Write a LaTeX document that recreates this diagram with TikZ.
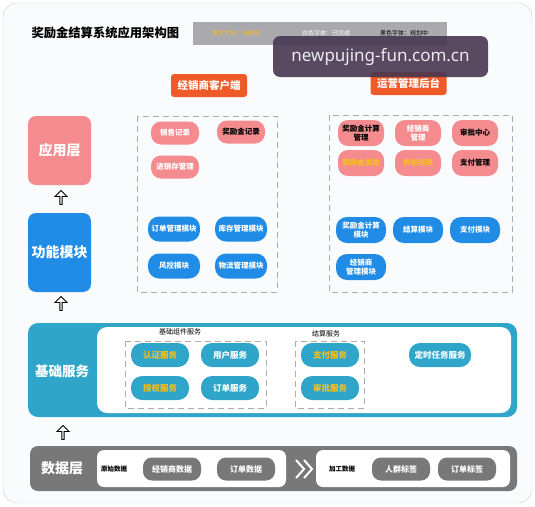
\documentclass[tikz,border=0pt]{standalone}
\usepackage{fontspec}
\setmainfont{Noto Sans CJK SC}
\newfontfamily\markfont{Noto Sans}
\usetikzlibrary{shapes.arrows}

\definecolor{FrameColor}{RGB}{249,251,253}
\definecolor{AppColor}{RGB}{244,139,143}
\definecolor{ModuleColor}{RGB}{33,140,230}
\definecolor{ServiceColor}{RGB}{46,165,201}
\definecolor{DataColor}{RGB}{120,120,120}
\definecolor{HeadColor}{RGB}{240,90,40}
\definecolor{TodoColor}{RGB}{247,190,30}
\definecolor{LegendColor}{RGB}{169,169,174}
\definecolor{MarkColor}{RGB}{72,55,82}

\begin{document}
\begin{tikzpicture}[x=1pt, y=-1pt,
		layer/.style={rounded corners=8pt, text=white, minimum width=63pt, inner sep=0pt, font=\fontsize{14}{16}\selectfont\bfseries},
		header/.style={fill=HeadColor, rounded corners=3pt, text=white, minimum width=76pt, minimum height=23pt, font=\fontsize{10.5}{12}\selectfont\bfseries},
		app/.style={fill=AppColor, rounded corners=10pt, minimum width=48pt, minimum height=23pt, inner sep=1pt, align=center, font=\fontsize{7.5}{8.5}\selectfont\bfseries},
		module/.style={fill=ModuleColor, rounded corners=11pt, minimum width=52pt, minimum height=25pt, inner sep=1pt, align=center, text=white, font=\fontsize{7.5}{8.5}\selectfont\bfseries},
		service/.style={fill=ServiceColor, rounded corners=11pt, minimum width=58pt, minimum height=24pt, inner sep=1pt, font=\fontsize{8.5}{10}\selectfont\bfseries},
		datum/.style={fill=DataColor, rounded corners=9pt, minimum width=58pt, minimum height=23pt, inner sep=1pt, text=white, font=\fontsize{8}{9}\selectfont\bfseries},
		group/.style={draw=gray!65, thick, dash pattern=on 6pt off 4pt},
		caption/.style={font=\fontsize{7}{8}\selectfont},
		uparrow/.style={single arrow, shape border rotate=90, draw=black, fill=white, line width=0.9pt, minimum height=14pt, minimum width=12pt, single arrow head extend=2pt, inner sep=0pt}
	]
	\useasboundingbox (0,0) rectangle (535,506);

	% Frame and title
	\filldraw[draw=gray!40, fill=FrameColor, rounded corners=14pt] (3,3) rectangle (532,503);
	\node[anchor=west, font=\fontsize{12.3}{14}\selectfont\bfseries] (title) at (28,33) {奖励金结算系统应用架构图};

	% Legend
	\fill[LegendColor] (193,22) rectangle (447,45);
	\node[caption, font=\fontsize{6}{7}\selectfont, text=TodoColor] (legtodo) at (236,33) {黄色字体：待确定};
	\node[caption, font=\fontsize{6}{7}\selectfont, text=white] (legdone) at (326,33) {白色字体：已完成};
	\node[caption, font=\fontsize{6}{7}\selectfont, text=black] (legplan) at (404,33) {黑色字体：规划中};

	% Left layers
	\node[layer, fill=AppColor, minimum height=69pt] (applayer) at (59.5,150.5) {应用层};
	\node[layer, fill=ModuleColor, minimum height=79pt] (modlayer) at (59.5,252.5) {功能模块};
	\node[uparrow] (arrowa) at (61,198) {};
	\node[uparrow] (arrowb) at (61,304) {};

	% Headers
	\node[header] (client) at (209,85.5) {经销商客户端};
	\node[header] (backend) at (408.5,83.5) {运营管理后台};

	% Dealer client
	\draw[group] (137,116) rectangle (277,292);
	\node[app, text=white] (sales) at (175,133) {销售记录};
	\node[app, text=black] (bonusrec) at (241,132) {奖励金记录};
	\node[app, text=white] (stock) at (175,167) {进销存管理};
	\node[module] (ordermod) at (174,229) {订单管理模块};
	\node[module] (stockmod) at (241,229) {库存管理模块};
	\node[module] (riskmod) at (174,266) {风控模块};
	\node[module] (logimod) at (241,266) {物流管理模块};

	% Operation backend
	\draw[group] (329,115) rectangle (512,292);
	\node[app, text=black, minimum width=46pt, minimum height=26pt] (calcmgr) at (361,133) {奖励金计算\\管理};
	\node[app, text=white, minimum width=46pt, minimum height=26pt] (dealermgr) at (418,133) {经销商\\管理};
	\node[app, text=black, minimum width=46pt, minimum height=26pt] (approve) at (475,133) {审批中心};
	\node[app, text=TodoColor, minimum width=46pt, minimum height=26pt] (issue) at (361,163) {奖励金发放};
	\node[app, text=TodoColor, minimum width=46pt, minimum height=26pt] (report) at (418,163) {数据报表};
	\node[app, text=black, minimum width=46pt, minimum height=26pt] (paymgr) at (475,163) {支付管理};
	\node[module, minimum width=50pt, minimum height=26pt] (calcmod) at (361,230) {奖励金计算\\模块};
	\node[module, minimum width=50pt, minimum height=26pt] (settlemod) at (418,230) {结算模块};
	\node[module, minimum width=50pt, minimum height=26pt] (paymod) at (475,230) {支付模块};
	\node[module, minimum width=50pt, minimum height=26pt] (dealermod) at (361,267) {经销商\\管理模块};

	% Base services
	\fill[ServiceColor, rounded corners=10pt] (28,323) rectangle (517,417);
	\fill[white, rounded corners=10pt] (97,327) rectangle (511,413);
	\node[text=white, font=\fontsize{13.5}{16}\selectfont\bfseries] (baselayer) at (62,371) {基础服务};
	\node[uparrow] (arrowc) at (63,433) {};
	\node[caption] (compcap) at (180,332) {基础组件服务};
	\draw[group] (125,341) rectangle (266,408);
	\node[service, text=TodoColor] (authsvc) at (160,355) {认证服务};
	\node[service, text=white] (usersvc) at (230,355) {用户服务};
	\node[service, text=TodoColor] (grantsvc) at (160,388) {授权服务};
	\node[service, text=white] (ordersvc) at (230,388) {订单服务};
	\node[caption] (settlecap) at (326,334) {结算服务};
	\draw[group] (295,341) rectangle (364,408);
	\node[service, text=TodoColor] (paysvc) at (330,355) {支付服务};
	\node[service, text=TodoColor] (auditsvc) at (330,388) {审批服务};
	\node[service, text=white, minimum width=62pt] (timersvc) at (440,355) {定时任务服务};

	% Data layer
	\fill[DataColor, rounded corners=8pt] (30,446) rectangle (517,491);
	\fill[white, rounded corners=7pt] (97,450) rectangle (286,487);
	\fill[white, rounded corners=7pt] (316,450) rectangle (510,487);
	\node[text=white, font=\fontsize{14}{16}\selectfont\bfseries] (datalayer) at (62,468) {数据层};
	\node[caption, font=\fontsize{6.5}{8}\selectfont\bfseries] (rawcap) at (114,469) {原始数据};
	\node[datum] (dealerdata) at (172,469) {经销商数据};
	\node[datum] (orderdata) at (246,469) {订单数据};
	\draw[white, line width=2pt] (296,460) -- (304,469) -- (296,478) (304,460) -- (312,469) -- (304,478);
	\node[caption, font=\fontsize{6.5}{8}\selectfont\bfseries] (proccap) at (342,469) {加工数据};
	\node[datum] (crowdtag) at (401,469) {人群标签};
	\node[datum] (ordertag) at (467,469) {订单标签};

	% Watermark
	\fill[MarkColor, opacity=0.9, rounded corners=7pt] (273,36) rectangle (488,77);
	\node[text=white!92!black, font=\markfont\fontsize{17}{20}\selectfont] (mark) at (380.5,57) {newpujing-fun.com.cn};

\end{tikzpicture}
\end{document}
